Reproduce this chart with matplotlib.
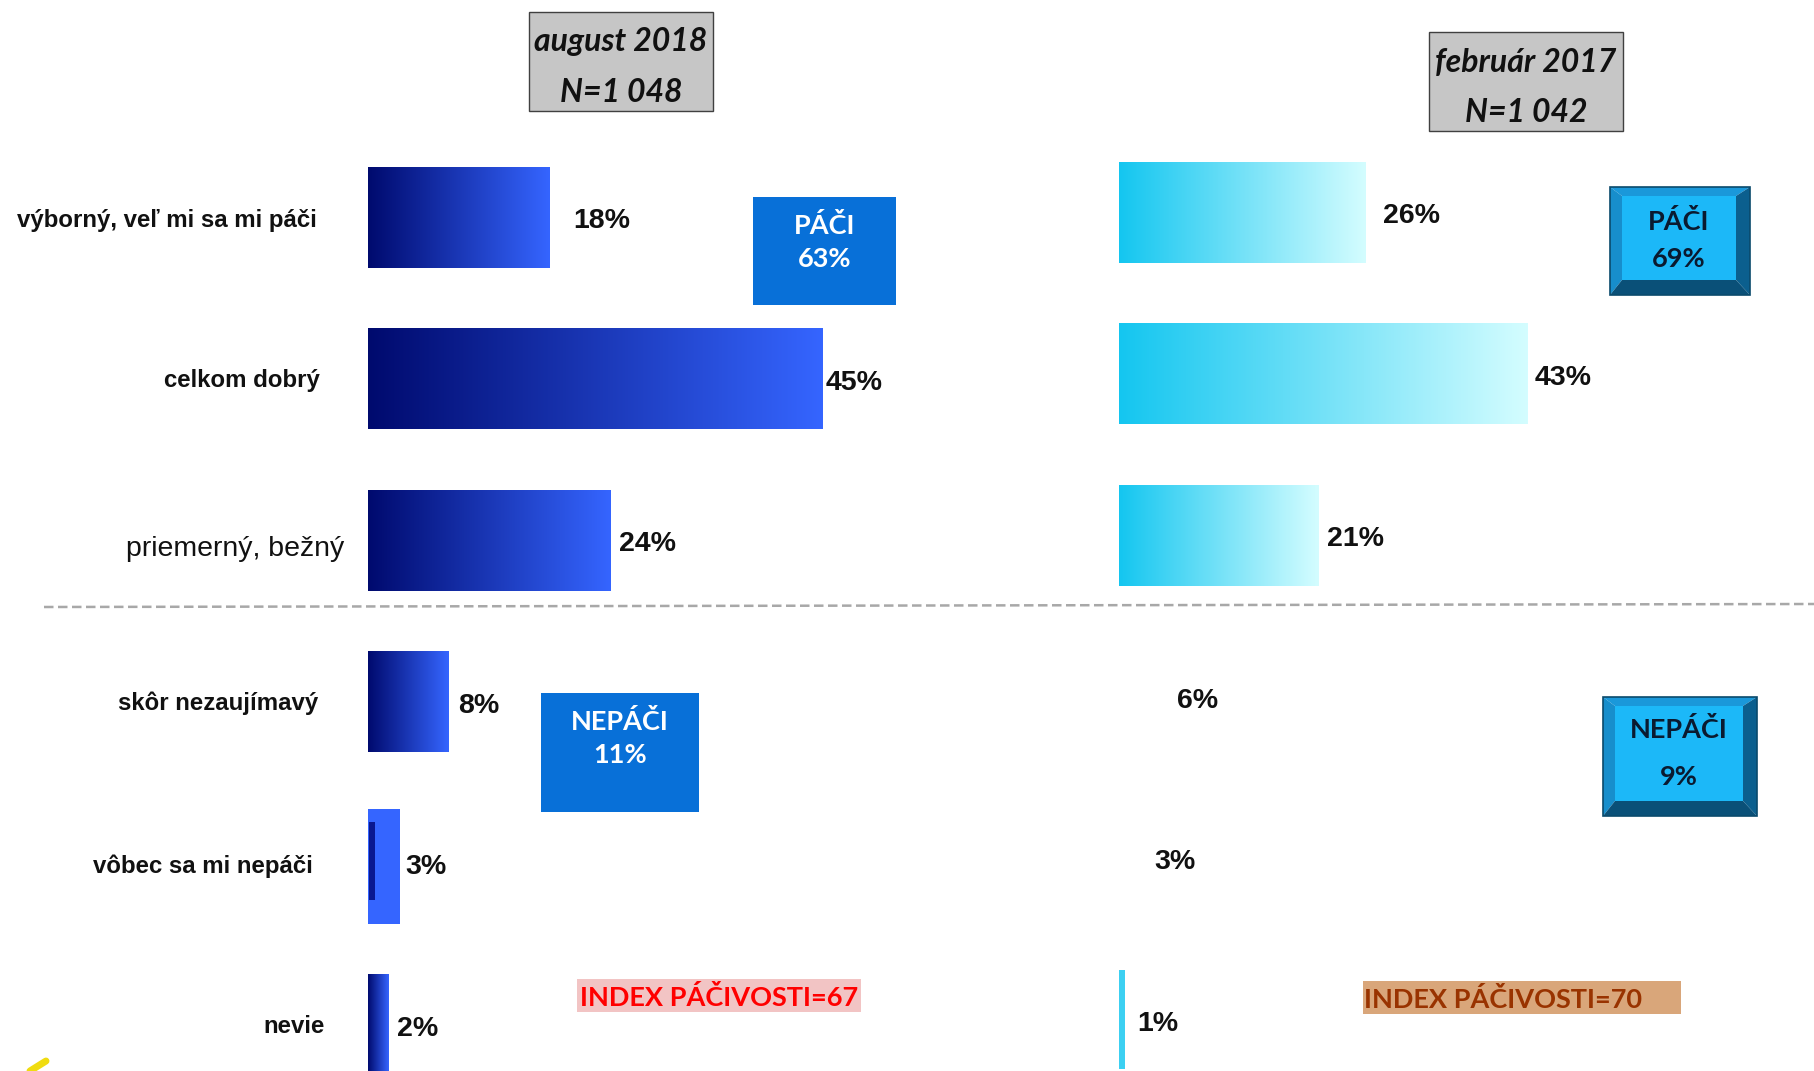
import numpy as np
import matplotlib
matplotlib.use("Agg")
import matplotlib.pyplot as plt
from matplotlib import font_manager
from matplotlib.colors import LinearSegmentedColormap
from matplotlib.patches import Rectangle, Polygon

# ---- data -------------------------------------------------------------------
CATEGORIES = ["výborný, veľ mi sa mi páči", "celkom dobrý", "priemerný, bežný",
              "skôr nezaujímavý", "vôbec sa mi nepáči", "nevie"]
AUG_2018 = [18, 45, 24, 8, 3, 2]
FEB_2017 = [26, 43, 21, 6, 3, 1]
PERIODS = ["august 2018", "február 2017"]
N_SIZES = ["N=1 048", "N=1 042"]
LIKE = [63, 69]
DISLIKE = [11, 9]
INDEX = [67, 70]

# ---- style ------------------------------------------------------------------
W, H = 1814, 1071
ROW_PX = 161.5
BAR_H = 0.62
PX_PCT_L, PX_PCT_R = 10.09, 9.49
PAD_L = [24, 4, 9, 9, 7, 9]          # label gap after bar end (px)
PAD_R = [17, 8, 9, 1, 7, 9]
SHOW_R = [True, True, True, False, False, True]
NAVY, BRIGHT = "#000a6e", "#3565ff"
CYAN, PALE = "#14c6f0", "#d4fdff"

names = {f.name for f in font_manager.fontManager.ttflist}
NARROW = "Liberation Sans Narrow" in names
CAT_FONT = "Liberation Sans Narrow" if NARROW else "Liberation Sans"
CAT_SIZE = 21 if NARROW else 17.3
ARIAL = "Liberation Sans"
CAL = "Lato"

fig = plt.figure(figsize=(W / 100, H / 100), dpi=100)
fig.patch.set_facecolor("white")

# overlay in pixel coordinates for boxes / annotations
ov = fig.add_axes([0, 0, 1, 1])
ov.set_xlim(0, W)
ov.set_ylim(H, 0)
ov.axis("off")


def panel_axes(x0_px, px_per_pct, c0_px):
    xmax = 50
    top = c0_px - 0.5 * ROW_PX
    bot = c0_px + 5.3 * ROW_PX
    ax = fig.add_axes([x0_px / W, (H - bot) / H, xmax * px_per_pct / W, (bot - top) / H])
    ax.set_facecolor("none")
    ax.axis("off")
    return ax, (0, xmax), (5.3, -0.5)


def grad_bar(ax, width, yc, c0, c1, h=BAR_H):
    cmap = LinearSegmentedColormap.from_list("g", [c0, c1])
    grad = np.linspace(0, 1, 256).reshape(1, -1)
    ax.imshow(grad, cmap=cmap, extent=(0, width, yc + h / 2, yc - h / 2),
              aspect="auto", interpolation="bilinear", zorder=2)


axL, xl, yl = panel_axes(368, PX_PCT_L, 217.5)
axR, _, _ = panel_axes(1119, PX_PCT_R, 212.9)
LBL_DY = 0.022

# left panel (august 2018)
for i, v in enumerate(AUG_2018):
    if i == 4:
        # odd rendering in the source: bright bar with a thin dark core
        axL.add_patch(Rectangle((-0.4, i - 0.337), v + 0.57, 0.712, color=BRIGHT, lw=0, zorder=2))
        axL.add_patch(Rectangle((0.1, i - 0.258), 0.59, 0.484, color="#0a1890", lw=0, zorder=3))
    else:
        grad_bar(axL, v, i, NAVY, BRIGHT)
    axL.text(v + PAD_L[i] / PX_PCT_L, i + LBL_DY, f"{v}%", ha="left", va="center",
             fontsize=20.5, fontweight="bold", family=ARIAL, color="#111111")
axL.set_xlim(*xl)
axL.set_ylim(*yl)

# category labels
cat_x = [-5.1, -4.8, -2.4, -4.9, -5.5, -4.3]
cat_dy = [0.02, 0.01, 0.05, 0.01, 0.02, 0.01]
for i, c in enumerate(CATEGORIES):
    bold = i != 2
    axL.text(cat_x[i], i + cat_dy[i], c, ha="right", va="center",
             family=CAT_FONT if bold else ARIAL,
             fontsize=CAT_SIZE if bold else 20.5,
             fontweight="bold" if bold else "normal", color="#111111")

# right panel (februar 2017)
for i, v in enumerate(FEB_2017):
    if SHOW_R[i]:
        if v <= 1:
            axR.add_patch(Rectangle((0, i - BAR_H / 2), v * 0.65, BAR_H,
                                    color="#3cd0f2", lw=0, zorder=2))
        else:
            grad_bar(axR, v, i, CYAN, PALE)
    axR.text(v + PAD_R[i] / PX_PCT_R, i + LBL_DY, f"{v}%", ha="left", va="center",
             fontsize=20.5, fontweight="bold", family=ARIAL, color="#111111")
axR.set_xlim(*xl)
axR.set_ylim(*yl)

# dashed separator between liked and disliked answers
ov.plot([44, W], [607, 604], color="#a8a8a8", lw=1.8, ls=(0, (3.8, 1.8)), zorder=1)

# period header boxes
for (x0, y0, x1, y1), per, n in zip([(529, 12, 713, 111), (1429, 32, 1623, 131)], PERIODS, N_SIZES):
    ov.add_patch(Rectangle((x0, y0), x1 - x0, y1 - y0, fc="#c6c6c6", ec="#404040", lw=1.0))
    cx = (x0 + x1) / 2
    ov.text(cx, y0 + 30, per, ha="center", va="center", family=CAL, fontsize=23,
            fontweight="bold", style="italic", color="#111111")
    ov.text(cx, y0 + 80, n, ha="center", va="center", family=CAL, fontsize=23,
            fontweight="bold", style="italic", color="#111111")

# flat summary boxes (august 2018)
for (x0, y0, x1, y1), lab, val in [((753, 197, 896, 305), "PÁČI", LIKE[0]),
                                   ((541, 693, 699, 812), "NEPÁČI", DISLIKE[0])]:
    ov.add_patch(Rectangle((x0, y0), x1 - x0, y1 - y0, fc="#0870d8", ec="none"))
    cx = (x0 + x1) / 2
    ov.text(cx, y0 + 29, lab, ha="center", va="center", family=CAL, fontsize=19.5,
            fontweight="bold", color="white")
    ov.text(cx, y0 + 62, f"{val}%", ha="center", va="center", family=CAL, fontsize=19.5,
            fontweight="bold", color="white")


def bevel_box(x0, y0, x1, y1, bt=9, bl=12, br=14, bb=15):
    ov.add_patch(Polygon([(x0, y0), (x1, y0), (x1 - br, y0 + bt), (x0 + bl, y0 + bt)], fc="#1a98da", ec="none"))
    ov.add_patch(Polygon([(x0, y0), (x0 + bl, y0 + bt), (x0 + bl, y1 - bb), (x0, y1)], fc="#178ecc", ec="none"))
    ov.add_patch(Polygon([(x1, y0), (x1, y1), (x1 - br, y1 - bb), (x1 - br, y0 + bt)], fc="#0b5f8e", ec="none"))
    ov.add_patch(Polygon([(x0, y1), (x1, y1), (x1 - br, y1 - bb), (x0 + bl, y1 - bb)], fc="#0a5078", ec="none"))
    ov.add_patch(Rectangle((x0 + bl, y0 + bt), x1 - x0 - bl - br, y1 - y0 - bt - bb, fc="#1cb8f8", ec="none"))
    ov.add_patch(Rectangle((x0, y0), x1 - x0, y1 - y0, fc="none", ec="#0a4a6c", lw=1.2))


# bevelled summary boxes (februar 2017)
for (x0, y0, x1, y1), lab, val, dy in [((1610, 187, 1750, 295), "PÁČI", LIKE[1], (34, 72)),
                                       ((1603, 697, 1757, 816), "NEPÁČI", DISLIKE[1], (32, 80))]:
    bevel_box(x0, y0, x1, y1)
    cx = (x0 + x1) / 2 - 1
    ov.text(cx, y0 + dy[0], lab, ha="center", va="center", family=CAL, fontsize=19.5,
            fontweight="bold", color="#0a1a30")
    ov.text(cx, y0 + dy[1], f"{val}%", ha="center", va="center", family=CAL, fontsize=19.5,
            fontweight="bold", color="#0a1a30")

# likeability index labels
ov.add_patch(Rectangle((577, 979), 284, 33, fc="#f2c4c4", ec="none"))
ov.text(719, 997, f"INDEX PÁČIVOSTI={INDEX[0]}", ha="center", va="center", family=CAL,
        fontsize=19.5, fontweight="bold", color="#ff0000")
ov.add_patch(Rectangle((1363, 981), 318, 33, fc="#d9a67a", ec="none"))
ov.text(1364, 999, f"INDEX PÁČIVOSTI={INDEX[1]}", ha="left", va="center", family=CAL,
        fontsize=19.5, fontweight="bold", color="#993300")

# small yellow pencil stroke in the corner
ov.plot([30, 46], [1071, 1061], color="#f0dc10", lw=5, solid_capstyle="round")

fig.savefig("out.png", dpi=100)
